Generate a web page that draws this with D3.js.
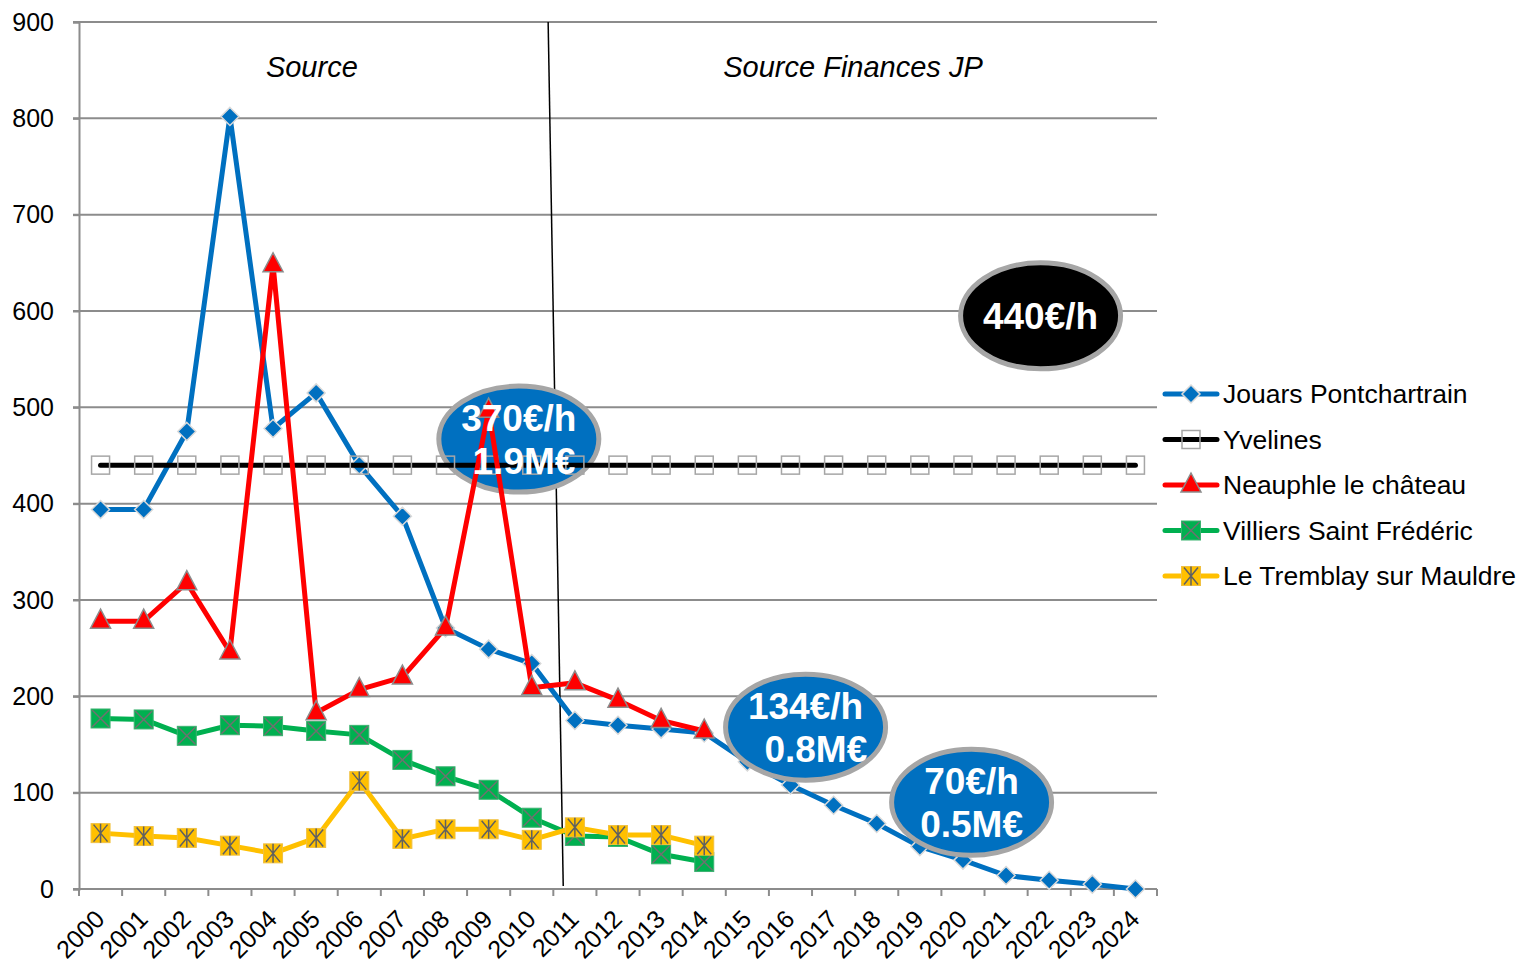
<!DOCTYPE html>
<html>
<head>
<meta charset="utf-8">
<script src="https://cdn.jsdelivr.net/npm/d3@7"></script>
<style>
body { margin: 0; background: #fff; }
svg { font-family: "Liberation Sans", Arial, sans-serif; }
</style>
</head>
<body>
<svg id="svg" width="1521" height="966"></svg>
<script>
var years = d3.range(2000, 2025).map(String);
var yTicks = [0, 100, 200, 300, 400, 500, 600, 700, 800, 900];

var jouars = [394, 394, 475, 802, 478, 515, 440, 387, 271, 249, 234, 175, 170, 166, 162,
              132, 108, 87, 68, 44, 30, 14, 9, 5, 0];
var yvelines = years.map(function() { return 440; });
var neauphle = [278, 278, 318, 246, 648, 183, 207, 220, 271, 497, 209, 214, 196, 175, 164];
var villiers = [177, 176, 159, 170, 169, 164, 160, 134, 117, 103, 74, 55, 54, 36, 28];
var tremblay = [58, 55, 53, 45, 37, 53, 112, 52, 62, 62, 51, 64, 56, 56, 45];

var seriesNames = ["Jouars Pontchartrain", "Yvelines", "Neauphle le château",
                   "Villiers Saint Frédéric", "Le Tremblay sur Mauldre"];

// bubbles: position in year index / value
var bubbles = [
  {cx: 10.2, cy: 467, lines: ["370€/h", " 1.9M€"], fill: "#0070C0", front: false},
  {cx: 16.85, cy: 168, lines: ["134€/h", "  0.8M€"], fill: "#0070C0", front: true},
  {cx: 20.7, cy: 90, lines: ["70€/h", "0.5M€"], fill: "#0070C0", front: true},
  {cx: 22.3, cy: 595, lines: ["440€/h"], fill: "#000000", front: true}
];

var svg = d3.select("#svg");
var mLeft = 79, mRight = 1157, mTop = 22, mBottom = 889;

var x = d3.scaleBand().domain(years).range([mLeft, mRight]);
var xi = d3.scaleLinear().domain([0, years.length]).range([mLeft, mRight]);
var y = d3.scaleLinear().domain([0, 900]).range([mBottom, mTop]);
var cx = function(i) { return x(years[i]) + x.bandwidth() / 2; };

// gridlines
svg.append("g").selectAll("line")
  .data(yTicks.filter(function(d) { return d > 0; }))
  .enter().append("line")
  .attr("x1", mLeft - 6).attr("x2", mRight)
  .attr("y1", function(d) { return y(d); })
  .attr("y2", function(d) { return y(d); })
  .attr("stroke", "#8c8c8c").attr("stroke-width", 2);

// y axis
var yAxis = svg.append("g").attr("transform", "translate(" + mLeft + ",0)")
  .call(d3.axisLeft(y).tickValues(yTicks).tickSize(6).tickPadding(19));
yAxis.select(".domain").attr("stroke", "#8c8c8c").attr("stroke-width", 2);
yAxis.selectAll(".tick line").attr("stroke", "#8c8c8c").attr("stroke-width", 2);
yAxis.selectAll("text").attr("font-size", 25).attr("fill", "#000")
  .attr("font-family", "Liberation Sans, Arial, sans-serif");

// x axis
svg.append("line").attr("x1", mLeft - 6).attr("x2", mRight)
  .attr("y1", mBottom).attr("y2", mBottom)
  .attr("stroke", "#8c8c8c").attr("stroke-width", 2);
svg.append("g").selectAll("line")
  .data(d3.range(years.length + 1))
  .enter().append("line")
  .attr("x1", function(d) { return xi(d); }).attr("x2", function(d) { return xi(d); })
  .attr("y1", mBottom).attr("y2", mBottom + 7)
  .attr("stroke", "#8c8c8c").attr("stroke-width", 2);
svg.append("g").selectAll("text")
  .data(years)
  .enter().append("text")
  .attr("transform", function(d, i) { return "translate(" + (cx(i) - 7) + "," + (mBottom + 19) + ") rotate(-45)"; })
  .attr("text-anchor", "end")
  .attr("dy", "0.71em")
  .attr("font-size", 25)
  .text(function(d) { return d; });

// separator line
svg.append("line")
  .attr("x1", xi(10.88)).attr("y1", mTop)
  .attr("x2", xi(11.23)).attr("y2", mBottom - 3)
  .attr("stroke", "#000").attr("stroke-width", 1.5);

svg.append("text").attr("x", xi(5.4)).attr("y", 77).attr("text-anchor", "middle")
  .attr("font-size", 29).attr("font-style", "italic").text("Source");
svg.append("text").attr("x", xi(17.95)).attr("y", 77).attr("text-anchor", "middle")
  .attr("font-size", 29).attr("font-style", "italic").text("Source Finances JP");

function drawBubble(b) {
  svg.append("ellipse")
    .attr("cx", xi(b.cx)).attr("cy", y(b.cy))
    .attr("rx", 80).attr("ry", 53)
    .attr("fill", b.fill).attr("stroke", "#a6a6a6").attr("stroke-width", 5);
}
function drawBubbleText(b) {
  var n = b.lines.length;
  svg.append("g").selectAll("text")
    .data(b.lines)
    .enter().append("text")
    .attr("x", xi(b.cx))
    .attr("y", function(d, i) { return y(b.cy) + 13 + (i - (n - 1) / 2) * 43; })
    .attr("text-anchor", "middle")
    .attr("font-size", 37).attr("font-weight", "bold").attr("fill", "#fff")
    .attr("xml:space", "preserve")
    .text(function(d) { return d; });
}

bubbles.filter(function(b) { return !b.front; }).forEach(drawBubble);

var line = d3.line()
  .x(function(d, i) { return cx(i); })
  .y(function(d) { return y(d); });

var styles = [
  {data: jouars, color: "#0070C0", marker: "diamond"},
  {data: yvelines, color: "#000000", marker: "open"},
  {data: neauphle, color: "#FF0000", marker: "triangle"},
  {data: villiers, color: "#00B050", marker: "xsquare"},
  {data: tremblay, color: "#FFC000", marker: "star"}
];

function marker(g, type, color) {
  if (type === "diamond") {
    g.append("path").attr("d", "M0,-9L9,0L0,9L-9,0Z")
      .attr("fill", color).attr("stroke", "#d9d9d9").attr("stroke-width", 1.5);
  } else if (type === "open") {
    g.append("rect").attr("x", -9).attr("y", -9).attr("width", 18).attr("height", 18)
      .attr("fill", "none").attr("stroke", "#a6a6a6").attr("stroke-width", 1.5);
  } else if (type === "triangle") {
    g.append("path").attr("d", "M0,-12L10,7L-10,7Z")
      .attr("fill", color).attr("stroke", "#8c8c8c").attr("stroke-width", 1.5);
  } else if (type === "xsquare") {
    g.append("rect").attr("x", -9.5).attr("y", -9.5).attr("width", 19).attr("height", 19)
      .attr("fill", color).attr("stroke", "#3cb371").attr("stroke-width", 1);
    g.append("path").attr("d", "M-8.5,-8.5L8.5,8.5M8.5,-8.5L-8.5,8.5")
      .attr("stroke", "#707070").attr("stroke-width", 1.5);
  } else if (type === "star") {
    g.append("rect").attr("x", -9.5).attr("y", -9.5).attr("width", 19).attr("height", 19)
      .attr("fill", color).attr("stroke", "#f0c040").attr("stroke-width", 1);
    g.append("path").attr("d", "M-7,-8.5L7,8.5M7,-8.5L-7,8.5M0,-9.5L0,9.5")
      .attr("stroke", "#606060").attr("stroke-width", 1.5);
  }
}

styles.forEach(function(s) {
  svg.append("path").datum(s.data)
    .attr("d", line)
    .attr("fill", "none").attr("stroke", s.color)
    .attr("stroke-width", 5)
    .attr("stroke-linejoin", "round").attr("stroke-linecap", "round");
  svg.append("g").selectAll("g")
    .data(s.data)
    .enter().append("g")
    .attr("transform", function(d, i) { return "translate(" + cx(i) + "," + y(d) + ")"; })
    .each(function() { marker(d3.select(this), s.marker, s.color); });
});

bubbles.filter(function(b) { return b.front; }).forEach(drawBubble);
bubbles.forEach(drawBubbleText);

// legend
var legend = svg.append("g").attr("transform", "translate(1165,394)");
seriesNames.forEach(function(name, i) {
  var g = legend.append("g").attr("transform", "translate(0," + (i * 45.5) + ")");
  g.append("line").attr("x1", 0).attr("x2", 52).attr("y1", 0).attr("y2", 0)
    .attr("stroke", styles[i].color).attr("stroke-width", 5).attr("stroke-linecap", "round");
  marker(g.append("g").attr("transform", "translate(26,0)"), styles[i].marker, styles[i].color);
  g.append("text").attr("x", 58).attr("y", 9).attr("font-size", 26.5).text(name);
});
</script>
</body>
</html>
